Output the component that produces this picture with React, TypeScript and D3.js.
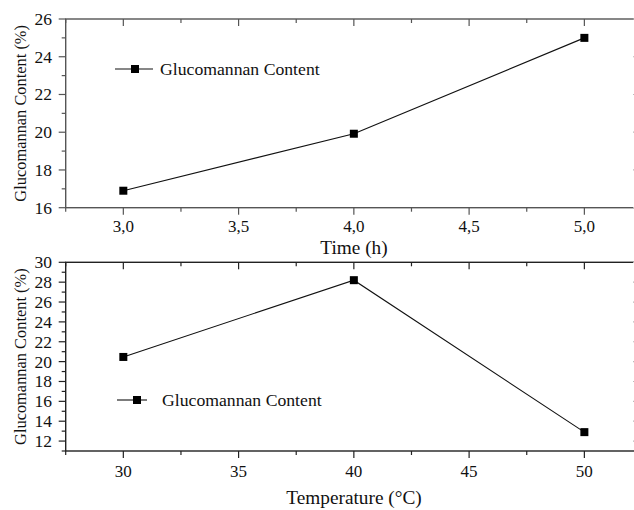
import React from "react";
import * as d3 from "d3";

const timeValues = [3.0, 4.0, 5.0];
const timeContent = [16.9, 19.92, 25.0];
const tempValues = [30, 40, 50];
const tempContent = [20.47, 28.2, 12.9];
const timeTicks = [3.0, 3.5, 4.0, 4.5, 5.0];
const timeMinor = [2.75, 3.25, 3.75, 4.25, 4.75, 5.25];
const tempTicks = [30, 35, 40, 45, 50];
const tempMinor = [27.5, 32.5, 37.5, 42.5, 47.5, 52.5];
const topYTicks = [16, 18, 20, 22, 24, 26];
const topYMinor = [17, 19, 21, 23, 25];
const botYTicks = [12, 14, 16, 18, 20, 22, 24, 26, 28, 30];
const botYMinor = [11, 13, 15, 17, 19, 21, 23, 25, 27, 29];
const seriesName = "Glucomannan Content";
const yTitle = "Glucomannan Content (%)";

const FONT = '"Liberation Serif", "Times New Roman", Times, serif';

type PanelProps = {
  xDomain: [number, number];
  yDomain: [number, number];
  top: number;
  bottom: number;
  xs: number[];
  ys: number[];
  xTicks: number[];
  xMinor: number[];
  yTicks: number[];
  yMinor: number[];
  fmtX: (v: number) => string;
  xTitle: string;
  xTitleY: number;
  xLabelY: number;
  legendY: number;
  legend: [number, number, number, number];
  axisColor: string;
};

function Panel(p: PanelProps) {
  const left = 65.7;
  const right = 642;
  const x = d3.scaleLinear().domain(p.xDomain).range([left, right]);
  const y = d3.scaleLinear().domain(p.yDomain).range([p.bottom, p.top]);
  const line = d3
    .line<number>()
    .x((_, i) => x(p.xs[i]))
    .y((d) => y(d));
  const ac = p.axisColor;
  const M = 7;
  const m = 4;
  const ts = { fontFamily: FONT };
  return (
    <g>
      <rect x={left} y={p.top} width={right - left} height={p.bottom - p.top} fill="none" stroke={ac} strokeWidth={1.4} />
      {p.xTicks.map((t) => (
        <g key={"xt" + t}>
          <line x1={x(t)} x2={x(t)} y1={p.bottom} y2={p.bottom + M} stroke={ac} strokeWidth={1.2} />
          <line x1={x(t)} x2={x(t)} y1={p.top} y2={p.top + M} stroke={ac} strokeWidth={1.2} />
          <text x={x(t)} y={p.xLabelY} textAnchor="middle" fontSize={17} style={ts} fill="#111">
            {p.fmtX(t)}
          </text>
        </g>
      ))}
      {p.xMinor.map((t) => (
        <g key={"xm" + t}>
          <line x1={x(t)} x2={x(t)} y1={p.bottom} y2={p.bottom + m} stroke={ac} strokeWidth={1.2} />
          <line x1={x(t)} x2={x(t)} y1={p.top} y2={p.top + m} stroke={ac} strokeWidth={1.2} />
        </g>
      ))}
      {p.yTicks.map((t) => (
        <g key={"yt" + t}>
          <line x1={left - M} x2={left} y1={y(t)} y2={y(t)} stroke={ac} strokeWidth={1.2} />
          <line x1={right - 9} x2={right} y1={y(t)} y2={y(t)} stroke="#bbb" strokeWidth={1.2} />
          <text x={52} y={y(t)} dy="0.34em" textAnchor="end" fontSize={17.5} style={ts} fill="#111">
            {t}
          </text>
        </g>
      ))}
      {p.yMinor.map((t) => (
        <g key={"ym" + t}>
          <line x1={left - m} x2={left} y1={y(t)} y2={y(t)} stroke={ac} strokeWidth={1.2} />
          <line x1={right - m} x2={right} y1={y(t)} y2={y(t)} stroke={ac} strokeWidth={1.2} />
        </g>
      ))}
      <path d={line(p.ys) || ""} fill="none" stroke="#111" strokeWidth={1.1} />
      {p.ys.map((v, i) => (
        <rect key={"pt" + i} x={x(p.xs[i]) - 4} y={y(v) - 4} width={8} height={8} fill="#000" />
      ))}
      <line x1={p.legend[0]} x2={p.legend[1]} y1={p.legendY} y2={p.legendY} stroke="#111" strokeWidth={1.1} />
      <rect x={p.legend[2] - 4} y={p.legendY - 4} width={8} height={8} fill="#000" />
      <text x={p.legend[3]} y={p.legendY} dy="0.35em" fontSize={17.7} style={ts} fill="#111">
        {seriesName}
      </text>
      <text x={354} y={p.xTitleY} textAnchor="middle" fontSize={19.3} style={ts} fill="#111">
        {p.xTitle}
      </text>
      <text
        transform={`translate(26,${(p.top + p.bottom) / 2}) rotate(-90)`}
        textAnchor="middle"
        fontSize={16.4}
        style={ts}
        fill="#111"
      >
        {yTitle}
      </text>
    </g>
  );
}

export default function App() {
  return (
    <svg
      width={634}
      height={510}
      style={{ position: "absolute", left: 0, top: 0, background: "#fff" }}
    >
      <rect width={634} height={510} fill="#fff" />
      <Panel
        xDomain={[2.75, 5.25]}
        yDomain={[16, 26]}
        top={19}
        bottom={207.7}
        xs={timeValues}
        ys={timeContent}
        xTicks={timeTicks}
        xMinor={timeMinor}
        yTicks={topYTicks}
        yMinor={topYMinor}
        fmtX={(v) => v.toFixed(1).replace(".", ",")}
        xTitle="Time (h)"
        xTitleY={254}
        xLabelY={232}
        legendY={69}
        legend={[115, 153, 135, 160]}
        axisColor="#555"
      />
      <Panel
        xDomain={[27.5, 52.5]}
        yDomain={[11, 30]}
        top={262.3}
        bottom={451}
        xs={tempValues}
        ys={tempContent}
        xTicks={tempTicks}
        xMinor={tempMinor}
        yTicks={botYTicks}
        yMinor={botYMinor}
        fmtX={(v) => String(v)}
        xTitle="Temperature (°C)"
        xTitleY={504}
        xLabelY={477}
        legendY={400}
        legend={[117, 147, 137, 162]}
        axisColor="#222"
      />
    </svg>
  );
}
